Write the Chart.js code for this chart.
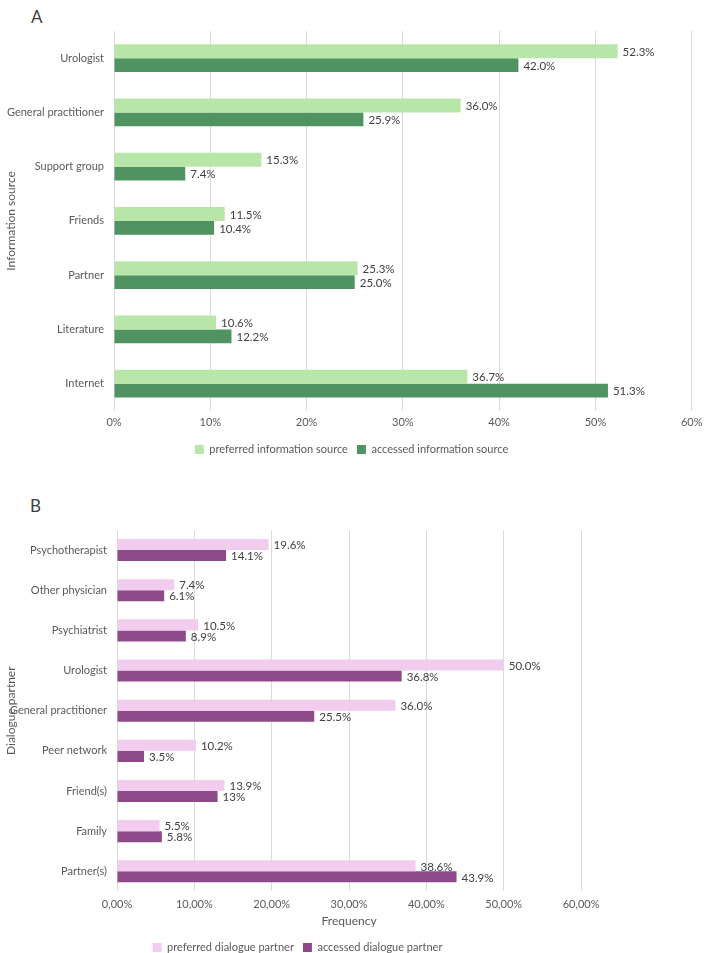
<!DOCTYPE html>
<html>
<head>
<meta charset="utf-8">
<script src="https://cdn.jsdelivr.net/npm/chart.js@4"></script>
<style>
  body { margin: 0; background: #fff; width: 708px; height: 953px; position: relative; overflow: hidden; }
  .lettre { position: absolute; font-family: Lato, sans-serif; font-size: 17px; color: #404040; }
  #wrapA { position: absolute; left: 0; top: 0; width: 708px; height: 465px; }
  #wrapB { position: absolute; left: 0; top: 488px; width: 606px; height: 475px; }
</style>
</head>
<body>
<div class="lettre" style="left:31px; top:6px;">A</div>
<div class="lettre" style="left:30px; top:495px;">B</div>
<div id="wrapA"><canvas id="chartA"></canvas></div>
<div id="wrapB"><canvas id="chartB"></canvas></div>
<script>
// Données graphique A (sources d'information)
const sourcesA = ['Urologist', 'General practitioner', 'Support group', 'Friends', 'Partner', 'Literature', 'Internet'];
const preferredSource = [52.3, 36.0, 15.3, 11.5, 25.3, 10.6, 36.7];
const accessedSource = [42.0, 25.9, 7.4, 10.4, 25.0, 12.2, 51.3];

// Données graphique B (partenaires de dialogue)
const partnersB = ['Psychotherapist', 'Other physician', 'Psychiatrist', 'Urologist', 'General practitioner', 'Peer network', 'Friend(s)', 'Family', 'Partner(s)'];
const preferredPartner = [19.6, 7.4, 10.5, 50.0, 36.0, 10.2, 13.9, 5.5, 38.6];
const accessedPartner = [14.1, 6.1, 8.9, 36.8, 25.5, 3.5, 13, 5.8, 43.9];
// texte affiché tel quel dans la figure (13% sans décimale)
const accessedPartnerText = ['14.1%', '6.1%', '8.9%', '36.8%', '25.5%', '3.5%', '13%', '5.8%', '43.9%'];

const police = 'Lato, sans-serif';
const gris = '#595959';

// plugin maison pour écrire les valeurs au bout des barres
const etiquettes = {
    id: 'etiquettes',
    afterDatasetsDraw(chart) {
        const ctx = chart.ctx;
        ctx.save();
        ctx.font = '11.5px ' + police;
        ctx.fillStyle = '#404040';
        ctx.textAlign = 'left';
        ctx.textBaseline = 'middle';
        chart.data.datasets.forEach((ds, i) => {
            const meta = chart.getDatasetMeta(i);
            meta.data.forEach((bar, j) => {
                let txt = ds.texts ? ds.texts[j] : ds.data[j].toFixed(1) + '%';
                ctx.fillText(txt, bar.x + 5, bar.y + 1);
            });
        });
        ctx.restore();
    }
};

function options(titreY, titreX, tickFmt, padRight, padTop, gauche, tickPad) {
    return {
        indexAxis: 'y',
        responsive: true,
        maintainAspectRatio: false,
        animation: false,
        layout: { padding: { top: padTop, right: padRight, left: 4, bottom: 0 } },
        plugins: {
            legend: {
                position: 'bottom',
                labels: {
                    font: { family: police, size: 11 },
                    color: gris,
                    boxWidth: 9,
                    boxHeight: 9,
                    padding: 9
                }
            },
            tooltip: { enabled: false }
        },
        scales: {
            x: {
                min: 0,
                max: 60,
                ticks: {
                    stepSize: 10,
                    callback: tickFmt,
                    font: { family: police, size: 11 },
                    color: gris,
                    padding: tickPad
                },
                grid: { color: '#d9d9d9', drawTicks: false },
                border: { display: false },
                title: {
                    display: titreX !== '',
                    text: titreX,
                    font: { family: police, size: 12 },
                    color: gris,
                    padding: { top: -4, bottom: 5 }
                }
            },
            y: {
                ticks: {
                    font: { family: police, size: 11 },
                    color: gris,
                    padding: 2
                },
                grid: { display: false },
                border: { display: false },
                title: {
                    display: true,
                    text: titreY,
                    font: { family: police, size: 12 },
                    color: gris,
                    padding: 0
                },
                afterFit(scale) { scale.width = gauche; }
            }
        }
    };
}

window.addEventListener('load', (event) => {
    new Chart(document.getElementById('chartA'), {
        type: 'bar',
        data: {
            labels: sourcesA,
            datasets: [{
                label: 'preferred information source',
                data: preferredSource,
                backgroundColor: '#b8e6a8',
                categoryPercentage: 0.51,
                barPercentage: 1
            }, {
                label: 'accessed information source',
                data: accessedSource,
                backgroundColor: '#4f9460',
                categoryPercentage: 0.51,
                barPercentage: 1
            }]
        },
        options: options('Information source', '', v => v + '%', 9, 31, 110, 5.5),
        plugins: [etiquettes]
    });

    new Chart(document.getElementById('chartB'), {
        type: 'bar',
        data: {
            labels: partnersB,
            datasets: [{
                label: 'preferred dialogue partner',
                data: preferredPartner,
                backgroundColor: '#f2ccee',
                categoryPercentage: 0.55,
                barPercentage: 1
            }, {
                label: 'accessed dialogue partner',
                data: accessedPartner,
                texts: accessedPartnerText,
                backgroundColor: '#8e4a88',
                categoryPercentage: 0.55,
                barPercentage: 1
            }]
        },
        options: options('Dialogue partner', 'Frequency', v => v.toFixed(2).replace('.', ',') + '%', 15, 42, 113, 6.5),
        plugins: [etiquettes]
    });
})
</script>
</body>
</html>
